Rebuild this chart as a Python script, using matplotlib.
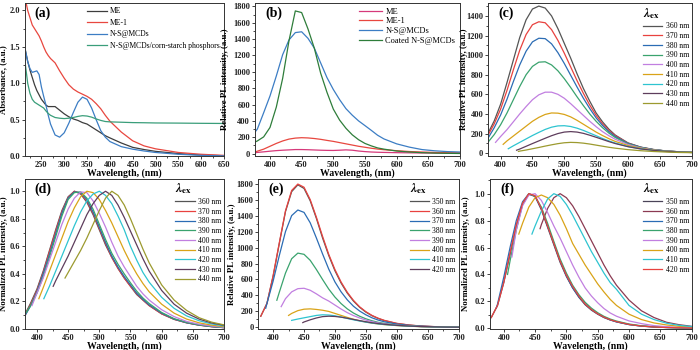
import matplotlib
matplotlib.use("Agg")
import matplotlib.pyplot as plt
from matplotlib.ticker import AutoMinorLocator, MultipleLocator, FormatStrFormatter

plt.rcParams['font.family'] = ['Liberation Serif', 'DejaVu Serif']
plt.rcParams['font.weight'] = 'bold'
plt.rcParams['mathtext.fontset'] = 'stix'

## ---------------- data ----------------
# (a) absorbance
a_wl = [215, 220, 225, 230, 235, 240, 245, 250, 255, 260, 265, 270, 280, 290, 300, 310,
        320, 330, 340, 350, 360, 370, 380, 390, 400, 425, 450, 475, 500, 550, 600, 650]
a_me = [1.45, 1.30, 1.18, 1.08, 0.98, 0.90, 0.84, 0.78, 0.74, 0.70, 0.68, 0.68, 0.68, 0.63, 0.58, 0.54,
        0.51, 0.49, 0.46, 0.44, 0.40, 0.36, 0.32, 0.28, 0.25, 0.18, 0.12, 0.09, 0.065, 0.035, 0.015, 0.005]
a_me1 = [2.15, 2.00, 1.90, 1.80, 1.75, 1.70, 1.65, 1.58, 1.50, 1.43, 1.38, 1.34, 1.28, 1.17, 1.07, 0.98,
         0.92, 0.88, 0.85, 0.82, 0.78, 0.72, 0.65, 0.56, 0.48, 0.33, 0.21, 0.14, 0.10, 0.05, 0.025, 0.01]
a_mcd = [1.45, 1.30, 1.20, 1.15, 1.16, 1.17, 1.12, 0.95, 0.82, 0.70, 0.56, 0.44, 0.29, 0.26, 0.32, 0.45,
         0.60, 0.74, 0.81, 0.78, 0.66, 0.50, 0.35, 0.26, 0.20, 0.13, 0.095, 0.07, 0.05, 0.025, 0.01, 0.003]
a_phos = [1.25, 1.00, 0.86, 0.78, 0.74, 0.72, 0.70, 0.68, 0.66, 0.62, 0.585, 0.56, 0.53, 0.52, 0.515, 0.52,
          0.53, 0.545, 0.555, 0.55, 0.535, 0.51, 0.49, 0.475, 0.47, 0.465, 0.46, 0.458, 0.455, 0.453, 0.45, 0.448]
a_names = ['ME', 'ME-1', 'N-S@MCDs', 'N-S@MCDs/corn-starch phosphors']

# shared wavelength grid for PL spectra (b-f)
grid = [380, 390, 400, 410, 420, 430, 440, 450, 460, 470, 480, 490, 500, 510, 520, 530,
        540, 550, 560, 570, 580, 600, 620, 640, 660, 680, 700]

# (b) PL spectra, all start at 376 nm
b_start = 376
b_me = [10, 15, 22, 30, 37, 42, 46, 50, 50, 48, 45, 42, 40, 39, 42, 46, 42, 32, 25, 20, 17, 15, 12, 10, 8, 7, 6, 5]
b_me1 = [20, 30, 55, 90, 125, 155, 178, 190, 195, 192, 185, 175, 162, 150, 135, 120, 105, 90, 78, 66, 56, 48,
         36, 26, 20, 15, 12, 10]
b_mcd = [260, 300, 500, 705, 950, 1210, 1390, 1480, 1490, 1410, 1290, 1110, 930, 785, 660, 550, 470, 400,
         343, 285, 225, 180, 120, 80, 50, 35, 25, 20]
b_coat = [141, 155, 205, 320, 570, 920, 1380, 1745, 1725, 1525, 1290, 985, 750, 545, 410, 310, 230, 170,
          125, 95, 70, 55, 32, 20, 12, 7, 4, 2]
b_names = ['ME', 'ME-1', 'N-S@MCDs', 'Coated N-S@MCDs']

# (c) PL of N-S@MCDs at different excitation
c_labels = ['360 nm', '370 nm', '380 nm', '390 nm', '400 nm', '410 nm', '420 nm', '430 nm', '440 nm']
c_starts = [380, 380, 380, 380, 392, 404, 412, 425, 428]
c_vals = [
    [200, 330, 500, 720, 950, 1180, 1360, 1470, 1500, 1480, 1400, 1270, 1120, 970, 810, 660, 530, 410, 320,
     245, 185, 105, 62, 38, 22, 14, 8],
    [180, 300, 450, 640, 850, 1050, 1210, 1310, 1340, 1330, 1260, 1150, 1020, 880, 740, 610, 490, 385, 300,
     232, 178, 102, 60, 36, 22, 14, 9],
    [150, 260, 390, 550, 730, 900, 1040, 1135, 1172, 1168, 1115, 1025, 915, 795, 675, 560, 455, 360, 283,
     220, 170, 100, 60, 36, 22, 14, 9],
    [110, 190, 290, 410, 545, 680, 800, 885, 928, 932, 900, 840, 760, 670, 575, 485, 400, 325, 260, 205,
     160, 95, 58, 35, 22, 14, 9],
    [110, 170, 240, 320, 400, 475, 545, 595, 622, 622, 600, 560, 505, 445, 385, 325, 270, 220, 178, 142,
     88, 54, 33, 20, 13, 8],
    [90, 125, 175, 225, 275, 325, 365, 395, 410, 408, 395, 370, 335, 295, 255, 215, 180, 148, 120, 78, 50,
     31, 19, 12, 8],
    [45, 75, 110, 145, 180, 212, 242, 265, 278, 280, 272, 255, 232, 205, 178, 150, 125, 103, 68, 44, 28,
     18, 11, 7],
    [30, 42, 70, 98, 125, 152, 178, 200, 215, 220, 215, 202, 183, 162, 140, 118, 98, 66, 43, 28, 18, 11, 7],
    [18, 21, 32, 45, 58, 72, 85, 97, 106, 110, 108, 102, 93, 82, 71, 60, 51, 36, 25, 17, 11, 7, 5],
]

# (d) normalized PL of N-S@MCDs
d_starts = [380, 380, 380, 383, 392, 403, 411, 426, 445]
d_vals = [
    [0.10, 0.19, 0.29, 0.42, 0.57, 0.72, 0.86, 0.96, 1.0, 0.98, 0.92, 0.83, 0.72, 0.61, 0.52, 0.44, 0.37,
     0.31, 0.25, 0.21, 0.17, 0.11, 0.07, 0.045, 0.028, 0.017, 0.01],
    [0.09, 0.18, 0.28, 0.41, 0.56, 0.71, 0.85, 0.955, 1.0, 0.985, 0.93, 0.84, 0.73, 0.62, 0.52, 0.44, 0.37,
     0.31, 0.255, 0.21, 0.17, 0.11, 0.07, 0.045, 0.028, 0.017, 0.01],
    [0.09, 0.17, 0.27, 0.40, 0.54, 0.69, 0.84, 0.95, 0.995, 0.99, 0.94, 0.85, 0.74, 0.63, 0.53, 0.45, 0.38,
     0.32, 0.26, 0.215, 0.175, 0.115, 0.072, 0.046, 0.029, 0.018, 0.01],
    [0.12, 0.17, 0.26, 0.38, 0.52, 0.67, 0.82, 0.94, 0.99, 0.995, 0.95, 0.87, 0.76, 0.65, 0.55, 0.47, 0.40,
     0.335, 0.275, 0.225, 0.185, 0.12, 0.075, 0.048, 0.03, 0.019, 0.011],
    [0.17, 0.26, 0.37, 0.50, 0.63, 0.76, 0.87, 0.95, 0.995, 0.99, 0.93, 0.84, 0.74, 0.63, 0.53, 0.45, 0.38,
     0.31, 0.255, 0.21, 0.14, 0.09, 0.055, 0.035, 0.022, 0.013],
    [0.22, 0.30, 0.42, 0.54, 0.66, 0.78, 0.88, 0.96, 1.0, 0.99, 0.94, 0.86, 0.77, 0.67, 0.57, 0.48, 0.40,
     0.33, 0.27, 0.18, 0.115, 0.072, 0.045, 0.028, 0.017],
    [0.22, 0.31, 0.42, 0.53, 0.64, 0.75, 0.85, 0.93, 0.98, 1.0, 0.97, 0.91, 0.82, 0.72, 0.60, 0.50, 0.41,
     0.34, 0.23, 0.15, 0.095, 0.06, 0.037, 0.022],
    [0.31, 0.35, 0.44, 0.53, 0.63, 0.73, 0.83, 0.91, 0.97, 1.0, 0.97, 0.90, 0.81, 0.71, 0.61, 0.51, 0.42,
     0.28, 0.18, 0.115, 0.072, 0.044, 0.027],
    [0.37, 0.41, 0.49, 0.57, 0.66, 0.76, 0.86, 0.95, 1.0, 0.97, 0.90, 0.80, 0.69, 0.58, 0.48, 0.32, 0.21,
     0.135, 0.082, 0.05, 0.03],
]

# (e) PL of coated N-S@MCDs at different excitation
e_labels = ['350 nm', '360 nm', '370 nm', '380 nm', '390 nm', '400 nm', '410 nm', '420 nm']
e_starts = [380, 380, 388, 406, 413, 425, 430, 448]
e_vals = [
    [140, 300, 640, 1050, 1450, 1700, 1785, 1740, 1585, 1365, 1120, 900, 710, 555, 430, 330, 252, 192, 146,
     112, 85, 49, 29, 16, 10, 6, 4],
    [140, 300, 650, 1060, 1460, 1715, 1795, 1755, 1600, 1380, 1140, 915, 725, 568, 440, 338, 258, 197, 150,
     115, 88, 51, 30, 17, 10, 6, 4],
    [240, 300, 580, 900, 1200, 1400, 1470, 1440, 1310, 1120, 920, 730, 570, 445, 345, 265, 205, 158, 120,
     92, 70, 42, 25, 15, 9, 6, 4],
    [340, 440, 680, 860, 930, 915, 840, 725, 600, 480, 380, 298, 232, 180, 140, 108, 83, 64, 50, 30, 18, 11,
     7, 4, 3],
    [260, 360, 445, 485, 490, 465, 420, 370, 330, 280, 230, 185, 148, 118, 92, 72, 56, 44, 27, 17, 10, 6, 4, 3],
    [150, 175, 210, 228, 232, 225, 215, 200, 175, 150, 125, 102, 83, 67, 54, 43, 35, 23, 15, 9, 6, 4, 2],
    [88, 105, 120, 135, 150, 158, 155, 145, 130, 112, 95, 80, 66, 54, 44, 36, 24, 15, 10, 6, 4, 3],
    [60, 68, 95, 118, 135, 140, 137, 128, 115, 100, 85, 71, 58, 48, 39, 26, 17, 11, 7, 4, 3],
]

# (f) normalized PL of coated N-S@MCDs
f_starts = [380, 458, 388, 406, 413, 424, 445, 380]
f_vals = [
    [0.08, 0.17, 0.34, 0.55, 0.76, 0.92, 0.995, 0.98, 0.88, 0.75, 0.62, 0.49, 0.385, 0.30, 0.23, 0.175,
     0.135, 0.105, 0.08, 0.062, 0.048, 0.028, 0.016, 0.01, 0.006, 0.004, 0.002],
    [0.74, 0.77, 0.89, 0.97, 1.0, 0.97, 0.91, 0.83, 0.74, 0.65, 0.56, 0.47, 0.39, 0.32, 0.21, 0.13, 0.08,
     0.045, 0.027, 0.015],
    [0.15, 0.18, 0.38, 0.60, 0.80, 0.94, 1.0, 0.98, 0.89, 0.76, 0.63, 0.50, 0.39, 0.30, 0.235, 0.18, 0.14,
     0.108, 0.082, 0.063, 0.048, 0.028, 0.017, 0.01, 0.006, 0.004, 0.002],
    [0.40, 0.50, 0.73, 0.92, 1.0, 0.98, 0.90, 0.78, 0.645, 0.515, 0.41, 0.32, 0.25, 0.193, 0.15, 0.116,
     0.089, 0.069, 0.054, 0.032, 0.019, 0.012, 0.007, 0.004, 0.003],
    [0.53, 0.73, 0.91, 0.99, 1.0, 0.95, 0.86, 0.76, 0.67, 0.57, 0.47, 0.38, 0.30, 0.24, 0.19, 0.147, 0.114,
     0.09, 0.055, 0.035, 0.02, 0.012, 0.008, 0.005],
    [0.70, 0.78, 0.90, 0.97, 0.99, 0.97, 0.92, 0.84, 0.74, 0.63, 0.55, 0.47, 0.40, 0.33, 0.27, 0.215, 0.17,
     0.105, 0.065, 0.04, 0.025, 0.015, 0.009],
    [0.70, 0.76, 0.87, 0.96, 1.0, 0.98, 0.92, 0.84, 0.75, 0.66, 0.57, 0.49, 0.41, 0.34, 0.29, 0.17, 0.105,
     0.065, 0.038, 0.022, 0.013],
    [0.08, 0.17, 0.34, 0.56, 0.77, 0.93, 1.0, 0.985, 0.89, 0.76, 0.63, 0.50, 0.395, 0.31, 0.24, 0.18, 0.14,
     0.108, 0.083, 0.064, 0.05, 0.029, 0.017, 0.01, 0.006, 0.004, 0.002],
]

## ---------------- colours ----------------
a_colors = ['#3d3d3d', '#e8473f', '#3c7dc4', '#3a9e7a']
b_colors = ['#d6397a', '#e8473f', '#3c7dc4', '#2e7d3a']
ex_colors = ['#555555', '#e8423f', '#2b6cb4', '#3aa36e', '#c17fe0', '#d9a318', '#2ec4d0', '#5e3d5c', '#9c9a2f']
f_colors = ['#4a4458', '#8b3a52', '#2b6cb4', '#3aa36e', '#c17fe0', '#d9a318', '#2ec4d0', '#e8423f']

legend_font = {'size': 5.5, 'weight': 'normal'}


def curve_x(start):
    return [start] + [w for w in grid if w > start]


def style_axes(ax, xlim, ylim, xstep, ystep, ylabel, label_x, tag, yfmt=None):
    ax.set_xlim(*xlim)
    ax.set_ylim(*ylim)
    ax.xaxis.set_major_locator(MultipleLocator(xstep))
    ax.yaxis.set_major_locator(MultipleLocator(ystep))
    ax.xaxis.set_minor_locator(AutoMinorLocator(2))
    ax.yaxis.set_minor_locator(AutoMinorLocator(2))
    if yfmt:
        ax.yaxis.set_major_formatter(FormatStrFormatter(yfmt))
    ax.tick_params(which='major', direction='out', length=2.2, width=0.6, labelsize=6, pad=1.2,
                   top=False, right=False, colors='#222222')
    ax.tick_params(which='minor', direction='out', length=1.2, width=0.5, top=False, right=False)
    for lab in ax.get_xticklabels() + ax.get_yticklabels():
        lab.set_fontweight('bold')
    for sp in ax.spines.values():
        sp.set_linewidth(0.7)
        sp.set_color('#333333')
    ax.set_xlabel('Wavelength, (nm)', fontsize=7, fontweight='bold', labelpad=0)
    ax.set_ylabel(ylabel, fontsize=6.3, fontweight='bold')
    ax.yaxis.set_label_coords(label_x, 0.5)
    ax.text(0.05, 0.975, tag, transform=ax.transAxes, fontsize=10, fontweight='bold', va='top', ha='left')


def ex_legend(ax):
    leg = ax.legend(title=r'$\lambda_{\mathbf{ex}}$', loc='upper right', frameon=False, prop=legend_font,
                    handlelength=2.6, labelspacing=0.22, borderaxespad=0.15, handletextpad=0.4,
                    alignment='left', borderpad=0.2)
    leg.get_title().set_fontsize(9)
    return leg


fig = plt.figure(figsize=(7, 3.5), dpi=100)

ax_a = fig.add_axes([0.035, 0.554, 0.285, 0.437])
ax_b = fig.add_axes([0.364, 0.554, 0.293, 0.437])
ax_c = fig.add_axes([0.697, 0.554, 0.291, 0.437])
ax_d = fig.add_axes([0.035, 0.060, 0.285, 0.429])
ax_e = fig.add_axes([0.369, 0.060, 0.286, 0.429])
ax_f = fig.add_axes([0.700, 0.060, 0.288, 0.429])

## (a)
for vals, col, name in zip([a_me, a_me1, a_mcd, a_phos], a_colors, a_names):
    ax_a.plot(a_wl, vals, color=col, lw=0.9, label=name)
style_axes(ax_a, (213, 650), (0, 2.1), 50, 0.5, 'Absorbance, (a.u.)', -0.085, '(a)', '%.1f')
ax_a.legend(loc='upper right', frameon=False, prop=legend_font, handlelength=2.6, labelspacing=0.45,
            borderaxespad=0.15, handletextpad=0.4)

## (b)
for vals, col, name in zip([b_me, b_me1, b_mcd, b_coat], b_colors, b_names):
    ax_b.plot(curve_x(b_start), vals, color=col, lw=0.9, label=name)
style_axes(ax_b, (376, 700), (-30, 1840), 50, 200, 'Relative PL intensity, (a.u.)', -0.125, '(b)')
ax_b.legend(loc='upper right', frameon=False, prop={'size': 6, 'weight': 'normal'}, handlelength=2.8,
            labelspacing=0.2, borderaxespad=0.15, handletextpad=0.4)

## (c)
for start, vals, col, lab in zip(c_starts, c_vals, ex_colors, c_labels):
    ax_c.plot(curve_x(start), vals, color=col, lw=0.9, label=lab)
style_axes(ax_c, (380, 700), (-30, 1530), 50, 200, 'Relative PL intensity, (a.u.)', -0.1, '(c)')
ex_legend(ax_c)

## (d)
for start, vals, col, lab in zip(d_starts, d_vals, ex_colors, c_labels):
    ax_d.plot(curve_x(start), vals, color=col, lw=0.9, label=lab)
style_axes(ax_d, (380, 700), (0, 1.09), 50, 0.2, 'Normalized PL intensity, (a.u.)', -0.085, '(d)', '%.1f')
ex_legend(ax_d)

## (e)
for start, vals, col, lab in zip(e_starts, e_vals, ex_colors, e_labels):
    ax_e.plot(curve_x(start), vals, color=col, lw=0.9, label=lab)
style_axes(ax_e, (376, 700), (-20, 1860), 50, 200, 'Relative PL intensity, (a.u.)', -0.11, '(e)')
ex_legend(ax_e)

## (f)
for start, vals, col, lab in zip(f_starts, f_vals, f_colors, e_labels):
    ax_f.plot(curve_x(start), vals, color=col, lw=0.9, label=lab)
style_axes(ax_f, (378, 700), (-0.005, 1.11), 50, 0.2, 'Normalized PL intensity, (a.u.)', -0.1, '(f)', '%.1f')
ex_legend(ax_f)

fig.savefig('out.png', dpi=100)
